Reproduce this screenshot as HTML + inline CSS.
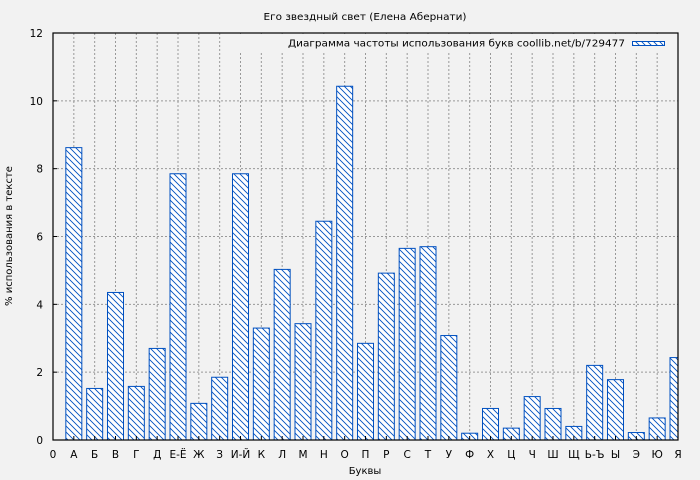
<!DOCTYPE html>
<html><head><meta charset="utf-8"><style>body{margin:0;background:#f2f2f2}svg{display:block}</style></head><body>
<svg width="700" height="480" xmlns="http://www.w3.org/2000/svg" font-family="DejaVu Sans, Liberation Sans, sans-serif" font-size="10">
<defs><pattern id="h" width="6" height="6" patternUnits="userSpaceOnUse"><rect width="6" height="6" fill="#ffffff"/><path d="M-1,-1 L7,7 M-1,5 L1,7 M5,-1 L7,1" stroke="#0050c0" stroke-width="0.9"/></pattern>
<clipPath id="c"><rect x="53" y="33" width="625" height="407"/></clipPath></defs>
<rect width="700" height="480" fill="#f2f2f2"/>
<text x="365" y="20" text-anchor="middle" font-size="10" textLength="203" lengthAdjust="spacingAndGlyphs">Его звездный свет (Елена Абернати)</text>
<g id="grid" stroke="#999" stroke-dasharray="2,2" stroke-width="1"></g>
<g id="bars" clip-path="url(#c)"></g>
<rect x="240" y="34" width="437" height="18" fill="#f2f2f2"/>
<text x="288" y="46.5" font-size="10" textLength="337" lengthAdjust="spacingAndGlyphs">Диаграмма частоты использования букв coollib.net/b/729477</text>
<rect x="632.5" y="41.5" width="32" height="4" fill="url(#h)" stroke="#0050c0"/>
<rect x="53" y="33" width="625" height="407" fill="none" stroke="#000" stroke-width="1.2"/>
<g id="lab" font-size="10.5"></g>
<text x="365" y="474" text-anchor="middle">Буквы</text>
<text x="12" y="236" text-anchor="middle" transform="rotate(-90 12 236)">% использования в тексте</text>
<script>
var L=["0","А","Б","В","Г","Д","Е-Ё","Ж","З","И-Й","К","Л","М","Н","О","П","Р","С","Т","У","Ф","Х","Ц","Ч","Ш","Щ","Ь-Ъ","Ы","Э","Ю","Я"];
var V=[0,8.62,1.52,4.35,1.58,2.7,7.85,1.08,1.85,7.85,3.3,5.03,3.43,6.45,10.43,2.85,4.92,5.65,5.7,3.08,0.2,0.93,0.35,1.28,0.93,0.4,2.2,1.78,0.22,0.65,2.43];
var ns="http://www.w3.org/2000/svg",g=document.getElementById("grid"),b=document.getElementById("bars"),lb=document.getElementById("lab");
function el(t,a,p){var e=document.createElementNS(ns,t);for(var k in a)e.setAttribute(k,a[k]);p.appendChild(e);return e;}
var sx=625/30,sy=407/12;
for(var i=0;i<31;i++){var x=53+i*sx;
 if(i>0&&i<30)el("line",{x1:x,y1:33,x2:x,y2:440},g);
 el("line",{x1:x,y1:440,x2:x,y2:436,stroke:"#000"},lb);
 var t=el("text",{x:x,y:458,"text-anchor":"middle"},lb);t.textContent=L[i];
 if(i>0){var h=V[i]*sy;el("rect",{x:x-8,y:440-h,width:16,height:h,fill:"url(#h)",stroke:"#0050c0","stroke-width":1},b);}
}
for(var j=0;j<=6;j++){var y=440-j*2*sy;
 if(j>0&&j<6)el("line",{x1:53,y1:y,x2:678,y2:y},g);
 el("line",{x1:53,y1:y,x2:57,y2:y,stroke:"#000"},lb);
 var t=el("text",{x:43,y:y+4,"text-anchor":"end"},lb);t.textContent=j*2;
}
</script>
</svg>
</body></html>
